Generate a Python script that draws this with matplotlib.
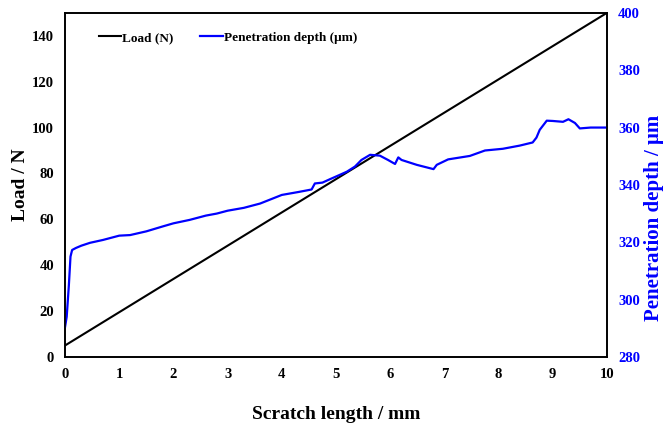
import matplotlib.pyplot as plt

plt.rcParams['font.family'] = 'Liberation Serif'
plt.rcParams['font.weight'] = 'bold'

# scratch test readings
load_x = [0, 10]
load_n = [5, 150]

depth_x = [0.0, 0.03, 0.07, 0.10, 0.13, 0.2, 0.3, 0.46, 0.7, 1.0, 1.2, 1.5, 1.8, 2.0, 2.3, 2.6,
           2.8, 3.0, 3.3, 3.6, 4.0, 4.3, 4.55, 4.61, 4.75, 4.89, 5.07, 5.2, 5.35, 5.47, 5.63,
           5.81, 5.96, 6.09, 6.15, 6.21, 6.49, 6.8, 6.86, 7.07, 7.47, 7.75, 8.08, 8.39, 8.63,
           8.70, 8.76, 8.89, 9.0, 9.19, 9.29, 9.41, 9.5, 9.7, 10.0]
depth_um = [290.5, 294, 305, 315, 317.3, 318, 318.8, 319.8, 320.8, 322.3, 322.5, 323.8, 325.5,
            326.6, 327.8, 329.3, 330, 331, 332, 333.5, 336.5, 337.5, 338.4, 340.5, 340.8, 342,
            343.5, 344.6, 346.4, 348.7, 350.5, 350.2, 348.7, 347.3, 349.6, 348.7, 347, 345.5,
            347, 348.9, 350.1, 352, 352.6, 353.7, 354.8, 356.5, 359.2, 362.4, 362.3, 362, 362.9,
            361.6, 359.7, 360, 360]

fig, ax = plt.subplots(figsize=(6.64, 4.29), dpi=100)
fig.subplots_adjust(left=0.098, right=0.914, bottom=0.168, top=0.970)

l1, = ax.plot(load_x, load_n, color='black', lw=1.5, label='Load (N)')
ax.set_xlim(0, 10)
ax.set_ylim(0, 150)
ax.set_xticks(range(0, 11))
ax.set_yticks(range(0, 141, 20))
ax.tick_params(length=0, labelsize=10.5, pad=8)
ax.set_xlabel('Scratch length / mm', fontsize=14, fontweight='bold', labelpad=18)
ax.set_ylabel('Load / N', fontsize=14, fontweight='bold', va='center', ha='center')
ax.yaxis.set_label_coords(-0.083, 0.5)

ax2 = ax.twinx()
l2, = ax2.plot(depth_x, depth_um, color='#0000ff', lw=1.6, label='Penetration depth (μm)')
ax2.set_ylim(280, 400)
ax2.set_yticks(range(280, 401, 20))
ax2.tick_params(length=0, labelsize=10.5, pad=8, labelcolor='#0000ff')
ax2.set_ylabel('Penetration depth / μm', fontsize=15, fontweight='bold', color='#0000ff',
               va='center', ha='center')
ax2.yaxis.set_label_coords(1.087, 0.405)

for a in (ax, ax2):
    for s in a.spines.values():
        s.set_linewidth(1.2)

ax.legend([l1, l2], [l1.get_label(), l2.get_label()], loc='upper left', ncol=2, frameon=False,
          prop={'size': 9.5, 'weight': 'bold'}, handlelength=1.7, handletextpad=0.1,
          columnspacing=2.0, bbox_to_anchor=(0.04, 0.98))

plt.savefig('out.png', dpi=100)
